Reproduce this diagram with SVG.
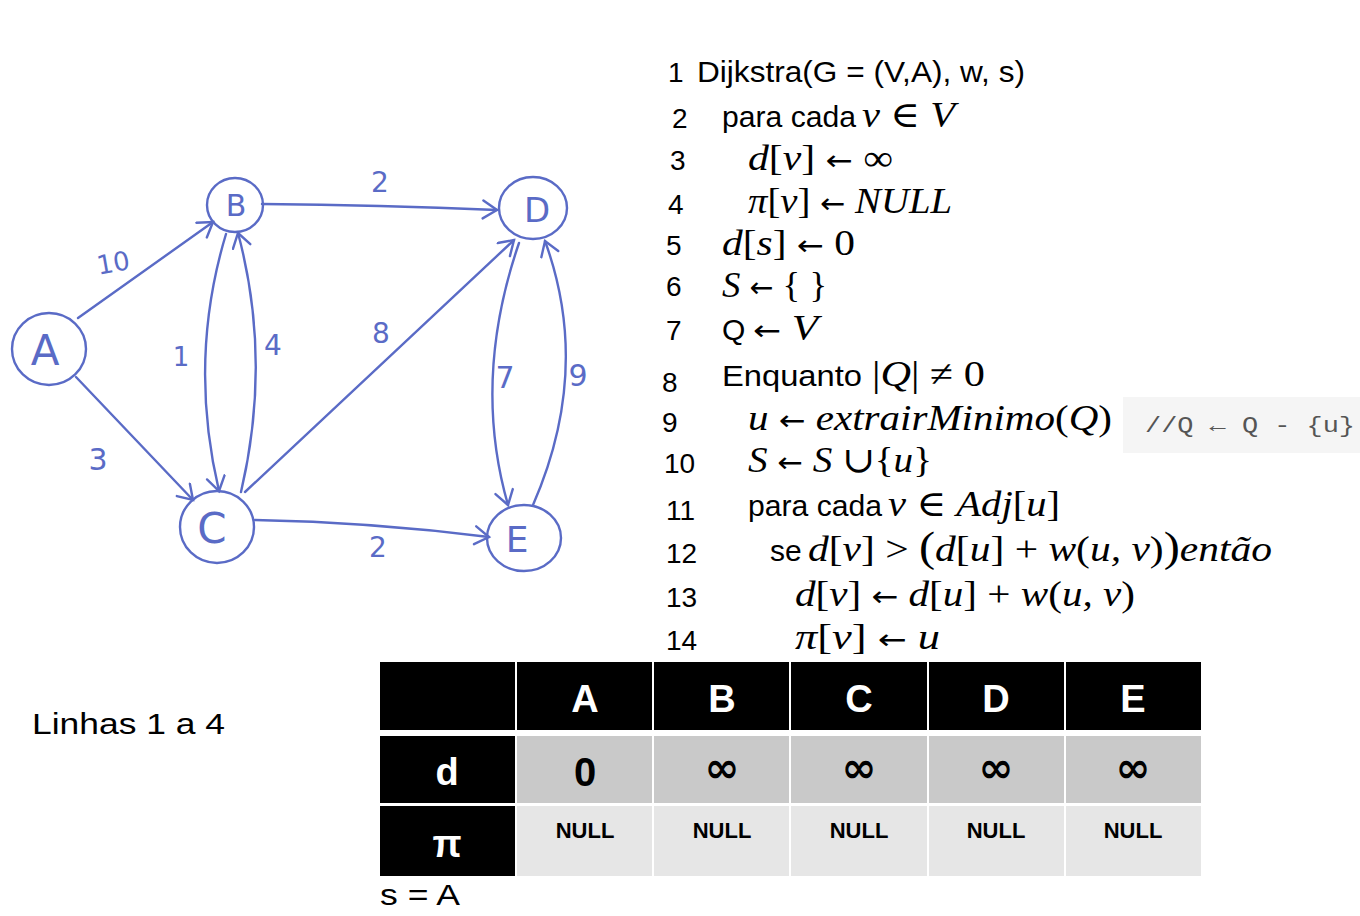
<svg xmlns="http://www.w3.org/2000/svg" width="1360" height="916" viewBox="0 0 1360 916">
<style>
.pen{fill:none;stroke:#5a6bc6;stroke-width:2.4;stroke-linecap:round}
.hl{font-family:"DejaVu Sans","Liberation Sans",sans-serif;fill:#5a6bc6;text-anchor:middle}
.num{font-family:"Liberation Sans",Arial,sans-serif;font-size:28px;fill:#000}
.txt{font-family:"Liberation Sans",Arial,sans-serif;font-size:30px;fill:#000}
.m{font-family:"Liberation Serif","DejaVu Serif",serif;font-size:36px;font-style:italic;fill:#000}
.ar{font-family:"DejaVu Sans",sans-serif;font-style:normal;font-size:28px}
.hdr{font-family:"Liberation Sans",Arial,sans-serif;font-weight:bold;font-size:38px;fill:#fff;text-anchor:middle}
.val{font-family:"Liberation Sans",Arial,sans-serif;font-weight:bold;fill:#000;text-anchor:middle}
.inf{font-family:"DejaVu Sans",sans-serif;font-weight:bold;font-size:42px;fill:#000;text-anchor:middle}
</style>
<defs>
<marker id="ah" markerUnits="userSpaceOnUse" markerWidth="30" markerHeight="30" refX="20" refY="10" orient="auto">
<path d="M6,1 L20,10 L6,19" fill="none" stroke="#5a6bc6" stroke-width="2.4" stroke-linecap="round"/>
</marker>
</defs>
<rect width="1360" height="916" fill="#fff"/>

<g id="connectors">
<path class="pen" d="M78,318 L213,222" marker-end="url(#ah)"/>
<path class="pen" d="M76,377 L193,500" marker-end="url(#ah)"/>
<path class="pen" d="M262,204 Q380,205 497,210" marker-end="url(#ah)"/>
<path class="pen" d="M245,492 L514,240" marker-end="url(#ah)"/>
<path class="pen" d="M255,520 Q370,522 489,537" marker-end="url(#ah)"/>
<path class="pen" d="M226,234 Q188,360 219,491" marker-end="url(#ah)"/>
<path class="pen" d="M241,492 Q272,360 238,233" marker-end="url(#ah)"/>
<path class="pen" d="M519,243 Q472,380 508,505" marker-end="url(#ah)"/>
<path class="pen" d="M533,505 Q592,370 545,241" marker-end="url(#ah)"/>
<text class="hl" font-size="26" x="113" y="272" transform="rotate(-10 113 262)">10</text>
<text class="hl" font-size="30" x="98" y="470">3</text>
<text class="hl" font-size="26" x="181" y="366">1</text>
<text class="hl" font-size="28" x="273" y="355">4</text>
<text class="hl" font-size="28" x="380" y="192">2</text>
<text class="hl" font-size="28" x="381" y="343">8</text>
<text class="hl" font-size="28" x="378" y="557">2</text>
<text class="hl" font-size="30" x="505" y="388">7</text>
<text class="hl" font-size="30" x="578" y="386">9</text>
</g>

<g id="node-A"><ellipse class="pen" cx="49" cy="349" rx="37" ry="36"/><text class="hl" font-size="42" x="45" y="365">A</text></g>
<g id="node-B"><ellipse class="pen" cx="235" cy="205" rx="28" ry="27"/><text class="hl" font-size="30" x="236" y="216">B</text></g>
<g id="node-D"><ellipse class="pen" cx="533" cy="208" rx="34" ry="31"/><text class="hl" font-size="34" x="537" y="222">D</text></g>
<g id="node-C"><ellipse class="pen" cx="217" cy="527" rx="37" ry="36"/><text class="hl" font-size="42" x="212" y="543">C</text></g>
<g id="node-E"><ellipse class="pen" cx="524" cy="538" rx="37" ry="33"/><text class="hl" font-size="36" x="517" y="552">E</text></g>

<g id="code">
<text class="num" x="668" y="82">1</text>
<text class="txt" x="697" y="82" textLength="328" lengthAdjust="spacingAndGlyphs">Dijkstra(G = (V,A), w, s)</text>
<text class="num" x="672" y="128">2</text>
<text class="txt" x="722" y="127" textLength="134" lengthAdjust="spacingAndGlyphs">para cada</text>
<text class="m" x="862" y="127" textLength="93" lengthAdjust="spacingAndGlyphs">v <tspan font-style="normal">∈</tspan> V</text>
<text class="num" x="670" y="170">3</text>
<text class="m" x="748" y="170" textLength="145" lengthAdjust="spacingAndGlyphs">d<tspan font-style="normal">[</tspan>v<tspan font-style="normal">] </tspan><tspan class="ar">←</tspan><tspan font-style="normal"> ∞</tspan></text>
<text class="num" x="668" y="214">4</text>
<text class="m" x="748" y="213" textLength="204" lengthAdjust="spacingAndGlyphs">π<tspan font-style="normal">[</tspan>v<tspan font-style="normal">] </tspan><tspan class="ar">←</tspan> NULL</text>
<text class="num" x="666" y="255">5</text>
<text class="m" x="722" y="255" textLength="133" lengthAdjust="spacingAndGlyphs">d<tspan font-style="normal">[</tspan>s<tspan font-style="normal">] </tspan><tspan class="ar">←</tspan><tspan font-style="normal"> 0</tspan></text>
<text class="num" x="666" y="296">6</text>
<text class="m" x="722" y="297" textLength="105" lengthAdjust="spacingAndGlyphs">S <tspan class="ar">←</tspan><tspan font-style="normal"> { }</tspan></text>
<text class="num" x="666" y="340">7</text>
<text class="txt" x="722" y="340">Q</text>
<text class="m" x="753" y="340" textLength="65" lengthAdjust="spacingAndGlyphs"><tspan class="ar">←</tspan> V</text>
<text class="num" x="662" y="392">8</text>
<text class="txt" x="722" y="386" textLength="140" lengthAdjust="spacingAndGlyphs">Enquanto</text>
<text class="m" x="872" y="386" textLength="113" lengthAdjust="spacingAndGlyphs"><tspan font-style="normal">|</tspan>Q<tspan font-style="normal">| ≠ 0</tspan></text>
<text class="num" x="662" y="432">9</text>
<rect x="1123" y="397" width="237" height="56" fill="#f5f5f5"/>
<text class="m" x="748" y="430" textLength="364" lengthAdjust="spacingAndGlyphs">u <tspan class="ar">←</tspan> extrairMinimo<tspan font-style="normal">(</tspan>Q<tspan font-style="normal">)</tspan></text>
<text x="1145" y="432" font-family="Liberation Mono,monospace" font-size="22" fill="#555" textLength="210" lengthAdjust="spacingAndGlyphs">//Q ← Q - {u}</text>
<text class="num" x="664" y="473">10</text>
<text class="m" x="748" y="472" textLength="184" lengthAdjust="spacingAndGlyphs">S <tspan class="ar">←</tspan> S <tspan font-style="normal">∪{</tspan>u<tspan font-style="normal">}</tspan></text>
<text class="num" x="666" y="520">11</text>
<text class="txt" x="748" y="516" textLength="134" lengthAdjust="spacingAndGlyphs">para cada</text>
<text class="m" x="888" y="516" textLength="172" lengthAdjust="spacingAndGlyphs">v <tspan font-style="normal">∈ </tspan>Adj<tspan font-style="normal">[</tspan>u<tspan font-style="normal">]</tspan></text>
<text class="num" x="666" y="563">12</text>
<text class="txt" x="770" y="561">se</text>
<text class="m" x="808" y="561" textLength="464" lengthAdjust="spacingAndGlyphs">d<tspan font-style="normal">[</tspan>v<tspan font-style="normal">] &gt; </tspan><tspan font-style="normal" font-size="42">(</tspan>d<tspan font-style="normal">[</tspan>u<tspan font-style="normal">] + </tspan>w<tspan font-style="normal">(</tspan>u, v<tspan font-style="normal">)</tspan><tspan font-style="normal" font-size="42">)</tspan>então</text>
<text class="num" x="666" y="607">13</text>
<text class="m" x="795" y="606" textLength="340" lengthAdjust="spacingAndGlyphs">d<tspan font-style="normal">[</tspan>v<tspan font-style="normal">] </tspan><tspan class="ar">←</tspan> d<tspan font-style="normal">[</tspan>u<tspan font-style="normal">] + </tspan>w<tspan font-style="normal">(</tspan>u, v<tspan font-style="normal">)</tspan></text>
<text class="num" x="666" y="650">14</text>
<text class="m" x="795" y="649" textLength="145" lengthAdjust="spacingAndGlyphs">π<tspan font-style="normal">[</tspan>v<tspan font-style="normal">] </tspan><tspan class="ar">←</tspan>  u</text>
</g>

<text class="txt" x="32" y="734" font-size="33" textLength="193" lengthAdjust="spacingAndGlyphs">Linhas 1 a 4</text>

<g id="table">
<rect x="380" y="662" width="135" height="68" fill="#000"/>
<rect x="517" y="662" width="135" height="68" fill="#000"/>
<rect x="654" y="662" width="135" height="68" fill="#000"/>
<rect x="791" y="662" width="136" height="68" fill="#000"/>
<rect x="929" y="662" width="135" height="68" fill="#000"/>
<rect x="1066" y="662" width="135" height="68" fill="#000"/>
<text class="hdr" x="585" y="712">A</text>
<text class="hdr" x="722" y="712">B</text>
<text class="hdr" x="859" y="712">C</text>
<text class="hdr" x="996" y="712">D</text>
<text class="hdr" x="1133" y="712">E</text>

<rect x="380" y="736" width="135" height="67" fill="#000"/>
<rect x="517" y="736" width="135" height="67" fill="#c9c9c9"/>
<rect x="654" y="736" width="135" height="67" fill="#c9c9c9"/>
<rect x="791" y="736" width="136" height="67" fill="#c9c9c9"/>
<rect x="929" y="736" width="135" height="67" fill="#c9c9c9"/>
<rect x="1066" y="736" width="135" height="67" fill="#c9c9c9"/>
<text class="hdr" x="447" y="785">d</text>
<text class="val" font-size="40" x="585" y="786">0</text>
<text class="inf" x="722" y="782">∞</text>
<text class="inf" x="859" y="782">∞</text>
<text class="inf" x="996" y="782">∞</text>
<text class="inf" x="1133" y="782">∞</text>

<rect x="380" y="806" width="135" height="70" fill="#000"/>
<rect x="517" y="806" width="135" height="70" fill="#e6e6e6"/>
<rect x="654" y="806" width="135" height="70" fill="#e6e6e6"/>
<rect x="791" y="806" width="136" height="70" fill="#e6e6e6"/>
<rect x="929" y="806" width="135" height="70" fill="#e6e6e6"/>
<rect x="1066" y="806" width="135" height="70" fill="#e6e6e6"/>
<text class="hdr" x="447" y="857">π</text>
<text class="val" font-size="22" x="585" y="838">NULL</text>
<text class="val" font-size="22" x="722" y="838">NULL</text>
<text class="val" font-size="22" x="859" y="838">NULL</text>
<text class="val" font-size="22" x="996" y="838">NULL</text>
<text class="val" font-size="22" x="1133" y="838">NULL</text>
</g>

<text class="txt" x="380" y="905" textLength="80" lengthAdjust="spacingAndGlyphs">s = A</text>
</svg>
